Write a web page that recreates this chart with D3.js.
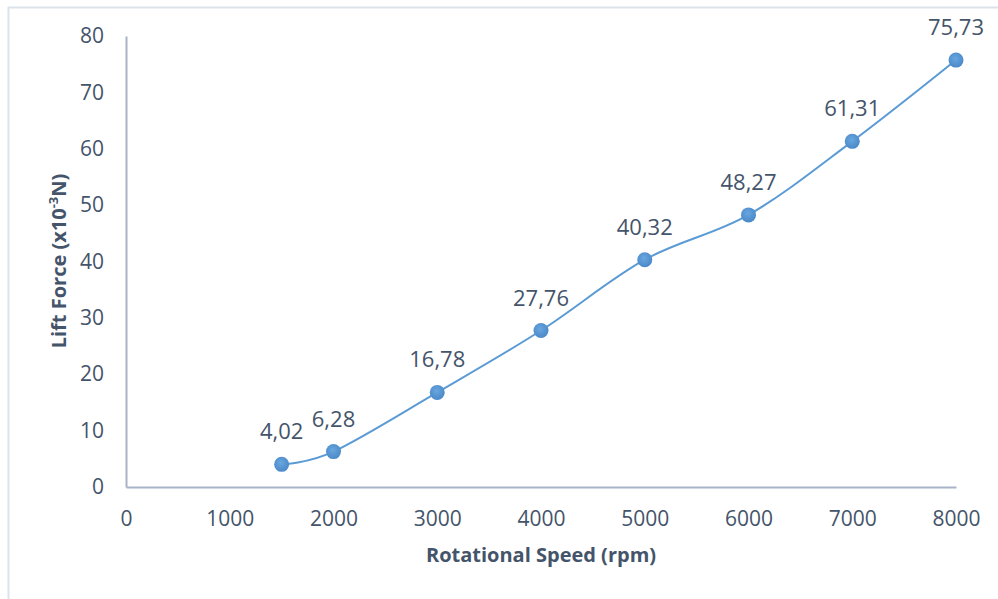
<!DOCTYPE html>
<meta charset="utf-8">
<script src="https://d3js.org/d3.v7.min.js"></script>
<style>
  body { margin: 0; background: #fff; }
  text { font-family: "Open Sans", sans-serif; fill: #44546a; }
</style>
<div id="chart"></div>
<script>

// data
var speeds = [1500, 2000, 3000, 4000, 5000, 6000, 7000, 8000];
var lift = [4.02, 6.28, 16.78, 27.76, 40.32, 48.27, 61.31, 75.73];
var xTicks = [0, 1000, 2000, 3000, 4000, 5000, 6000, 7000, 8000];
var yTicks = [0, 10, 20, 30, 40, 50, 60, 70, 80];

var width = 998, height = 599;

var svg = d3.select("#chart")
  .append("svg")
    .attr("width", width)
    .attr("height", height);

// outer frame of the chart area
svg.append("rect")
  .attr("x", 8.5).attr("y", 7.5)
  .attr("width", width).attr("height", height)
  .attr("fill", "none")
  .attr("stroke", "#dde3ea")
  .attr("stroke-width", 2);

var x = d3.scaleLinear().domain([0, 8000]).range([126, 956]);
var y = d3.scaleLinear().domain([0, 80]).range([487, 36]);

// axes: plain lines, no tick marks
svg.append("g")
  .attr("transform", "translate(0," + y(0) + ")")
  .call(d3.axisBottom(x).tickValues(xTicks).tickSize(0).tickPadding(24).tickFormat(d3.format("d")))
  .call(function(g) {
    g.select(".domain").attr("stroke", "#a8b3c7").attr("stroke-width", 2);
    g.selectAll("text").style("font-size", "21px").attr("fill", "#44546a");
  });

svg.append("g")
  .attr("transform", "translate(" + x(0) + ",0)")
  .call(d3.axisLeft(y).tickValues(yTicks).tickSize(0).tickPadding(22))
  .call(function(g) {
    g.select(".domain").attr("stroke", "#a8b3c7").attr("stroke-width", 2);
    g.selectAll("text").style("font-size", "21px").attr("fill", "#44546a");
  });

var pts = speeds.map(function(s, i) { return [s, lift[i]]; });

// smoothed line
var line = d3.line()
  .x(function(d) { return x(d[0]); })
  .y(function(d) { return y(d[1]); })
  .curve(d3.curveCatmullRom.alpha(0));

svg.append("path")
  .datum(pts)
  .attr("d", line)
  .attr("fill", "none")
  .attr("stroke", "#5b9bd5")
  .attr("stroke-width", 2);

// markers
var defs = svg.append("defs");
var grad = defs.append("radialGradient").attr("id", "dotfill")
  .attr("cx", "45%").attr("cy", "40%").attr("r", "60%");
grad.append("stop").attr("offset", "0%").attr("stop-color", "#69a7e0");
grad.append("stop").attr("offset", "100%").attr("stop-color", "#4a88c8");

svg.selectAll(".dot")
  .data(pts)
  .enter()
  .append("circle")
    .attr("class", "dot")
    .attr("cx", function(d) { return x(d[0]); })
    .attr("cy", function(d) { return y(d[1]); })
    .attr("r", 7.5)
    .attr("fill", "url(#dotfill)");

// data labels, comma as decimal separator
svg.selectAll(".lbl")
  .data(pts)
  .enter()
  .append("text")
    .attr("class", "lbl")
    .attr("x", function(d) { return x(d[0]); })
    .attr("y", function(d) { return y(d[1]) - 25; })
    .attr("text-anchor", "middle")
    .style("font-size", "22px")
    .text(function(d) { return d[1].toFixed(2).replace(".", ","); });

// axis titles
svg.append("text")
  .attr("x", 541)
  .attr("y", 562)
  .attr("text-anchor", "middle")
  .style("font-size", "20px")
  .style("font-weight", "bold")
  .text("Rotational Speed (rpm)");

var yt = svg.append("text")
  .attr("transform", "translate(66,261) rotate(-90)")
  .attr("text-anchor", "middle")
  .style("font-size", "20px")
  .style("font-weight", "bold");
yt.append("tspan").text("Lift Force (x10");
yt.append("tspan").attr("dy", -8).style("font-size", "13px").text("-3");
yt.append("tspan").attr("dy", 8).text("N)");

</script>
